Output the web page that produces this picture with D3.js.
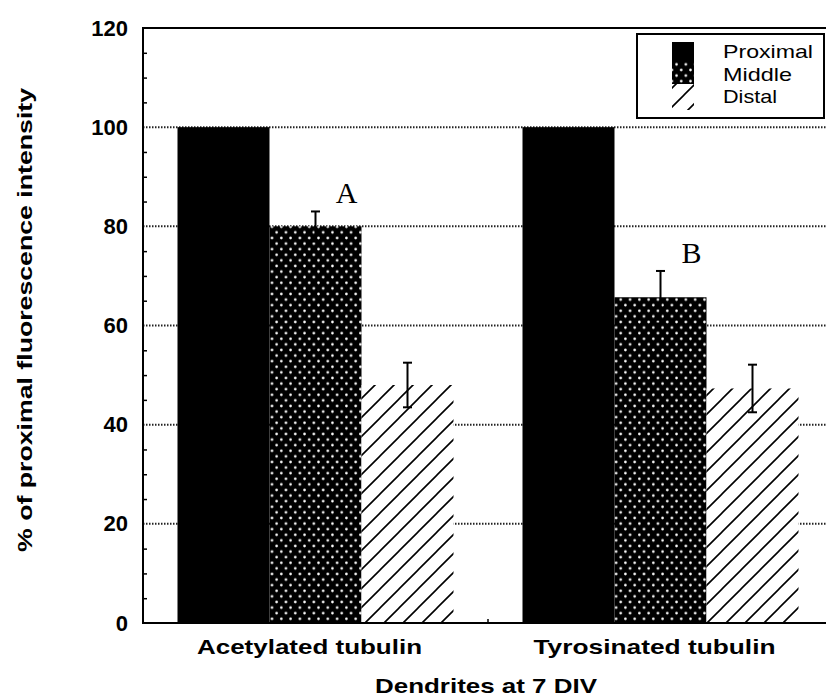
<!DOCTYPE html>
<html>
<head>
<meta charset="utf-8">
<script src="https://cdn.jsdelivr.net/npm/d3@7"></script>
<style>
  html, body { margin: 0; padding: 0; background: #fff; }
  svg { display: block; }
</style>
</head>
<body>
<svg id="chart" width="826" height="698"></svg>
<script>
// ---- data ----
const categories = ["Acetylated tubulin", "Tyrosinated tubulin"];
const series = ["Proximal", "Middle", "Distal"];
const proximalValues = [100, 100];
const middleValues = [80, 65.7];
const distalValues = [48, 47.3];
const proximalErrors = [0, 0];
const middleErrors = [3, 5.3];
const distalErrors = [4.5, 4.8];
const significance = [{ category: "Acetylated tubulin", series: "Middle", label: "A" },
                      { category: "Tyrosinated tubulin", series: "Middle", label: "B" }];
const yTicks = [0, 20, 40, 60, 80, 100, 120];
const yTitle = "% of proximal fluorescence intensity";
const xTitle = "Dendrites at 7 DIV";

const valuesBySeries = { Proximal: proximalValues, Middle: middleValues, Distal: distalValues };
const errorsBySeries = { Proximal: proximalErrors, Middle: middleErrors, Distal: distalErrors };
const rows = [];
categories.forEach((c, i) => series.forEach(s => rows.push({ category: c, series: s, value: valuesBySeries[s][i], err: errorsBySeries[s][i] })));

// ---- layout ----
const svg = d3.select("#chart");
const pLeft = 143, pRight = 833, pTop = 28, pBottom = 623;
const y = d3.scaleLinear().domain([0, 120]).range([pBottom, pTop]);
const x0 = d3.scaleBand().domain(categories).range([pLeft, pRight]).padding(0);
const step = x0.bandwidth();
const x1 = d3.scaleBand().domain(series).range([0.1 * step, 0.9 * step]).padding(0);

const defs = svg.append("defs");
const dots = defs.append("pattern").attr("id", "dots").attr("patternUnits", "userSpaceOnUse")
  .attr("width", 9.3).attr("height", 11.2);
dots.append("rect").attr("width", 9.3).attr("height", 11.2).attr("fill", "#000");
dots.append("circle").attr("cx", 2.3).attr("cy", 2.8).attr("r", 1.3).attr("fill", "#fff");
dots.append("circle").attr("cx", 6.95).attr("cy", 8.4).attr("r", 1.3).attr("fill", "#fff");

const hatch = defs.append("pattern").attr("id", "hatch").attr("patternUnits", "userSpaceOnUse")
  .attr("width", 19).attr("height", 19);
hatch.append("rect").attr("width", 19).attr("height", 19).attr("fill", "#fff");
hatch.append("path").attr("d", "M0,19 L19,0 M-2,2 L2,-2 M17,21 L21,17")
  .attr("stroke", "#000").attr("stroke-width", 1.6);

const fills = { Proximal: "#000", Middle: "url(#dots)", Distal: "url(#hatch)" };

// gridlines (behind bars)
svg.append("g").selectAll("line").data([20, 40, 60, 80, 100]).join("line")
  .attr("x1", pLeft).attr("x2", pRight).attr("y1", d => y(d)).attr("y2", d => y(d))
  .attr("stroke", "#222").attr("stroke-width", 2).attr("stroke-dasharray", "1.5,1.5");

// bars
svg.append("g").selectAll("rect").data(rows).join("rect")
  .attr("x", d => x0(d.category) + x1(d.series))
  .attr("width", x1.bandwidth())
  .attr("y", d => y(d.value))
  .attr("height", d => y(0) - y(d.value))
  .attr("fill", d => fills[d.series]);

// error bars
const eb = svg.append("g").attr("stroke", "#000").attr("stroke-width", 2);
rows.filter(d => d.err > 0).forEach(d => {
  const cx = x0(d.category) + x1(d.series) + x1.bandwidth() / 2;
  eb.append("line").attr("x1", cx).attr("x2", cx).attr("y1", y(d.value + d.err)).attr("y2", y(d.value - d.err));
  eb.append("line").attr("x1", cx - 4.5).attr("x2", cx + 4.5).attr("y1", y(d.value + d.err)).attr("y2", y(d.value + d.err));
  eb.append("line").attr("x1", cx - 4.5).attr("x2", cx + 4.5).attr("y1", y(d.value - d.err)).attr("y2", y(d.value - d.err));
});

// significance letters
significance.forEach(s => {
  const i = categories.indexOf(s.category);
  const v = valuesBySeries[s.series][i] + errorsBySeries[s.series][i];
  const cx = x0(s.category) + x1(s.series) + x1.bandwidth() / 2;
  svg.append("text").attr("x", cx + 31).attr("y", y(v) - 8)
    .attr("text-anchor", "middle")
    .attr("font-family", "'Liberation Serif', 'Times New Roman', serif")
    .attr("font-size", 30).attr("fill", "#000").text(s.label);
});

// left axis: minor ticks
const minor = d3.range(5, 120, 5).filter(v => v % 20 !== 0);
svg.append("g").attr("transform", `translate(${pLeft},0)`)
  .call(d3.axisLeft(y).tickValues(minor).tickSize(-4).tickFormat(""))
  .call(g => g.select(".domain").remove())
  .selectAll("line").attr("stroke", "#000").attr("stroke-width", 1.5);

// left axis: labels
svg.append("g").attr("transform", `translate(${pLeft},0)`)
  .call(d3.axisLeft(y).tickValues(yTicks).tickSize(0).tickPadding(15).tickFormat(d3.format("d")))
  .call(g => g.select(".domain").remove())
  .selectAll("text")
  .attr("font-family", "'Liberation Sans', Arial, sans-serif")
  .attr("font-weight", "bold").attr("font-size", 22).attr("fill", "#000");

// bottom axis: category labels
const xa = svg.append("g").attr("transform", `translate(0,${pBottom})`)
  .call(d3.axisBottom(x0).tickSize(0).tickPadding(0))
  .call(g => g.select(".domain").remove());
xa.selectAll("text")
  .attr("y", 31).attr("dy", 0).attr("dx", -6)
  .attr("font-family", "'Liberation Sans', Arial, sans-serif")
  .attr("font-weight", "bold").attr("font-size", 21).attr("fill", "#000")
  .attr("textLength", (d, i) => i === 0 ? 225 : 242)
  .attr("lengthAdjust", "spacingAndGlyphs");

// bottom tick between groups
svg.append("line").attr("x1", x0(categories[1])).attr("x2", x0(categories[1]))
  .attr("y1", pBottom).attr("y2", pBottom - 4).attr("stroke", "#000").attr("stroke-width", 1.5);

// frame
svg.append("rect").attr("x", pLeft).attr("y", pTop).attr("width", pRight - pLeft).attr("height", pBottom - pTop)
  .attr("fill", "none").attr("stroke", "#000").attr("stroke-width", 2);

// axis titles
svg.append("text").attr("x", 486).attr("y", 693).attr("text-anchor", "middle")
  .attr("font-family", "'Liberation Sans', Arial, sans-serif")
  .attr("font-weight", "bold").attr("font-size", 21).attr("fill", "#000")
  .attr("textLength", 222).attr("lengthAdjust", "spacingAndGlyphs")
  .text(xTitle);

svg.append("text").attr("transform", "translate(32,320) rotate(-90)").attr("text-anchor", "middle")
  .attr("font-family", "'Liberation Sans', Arial, sans-serif")
  .attr("font-weight", "bold").attr("font-size", 21).attr("fill", "#000")
  .attr("textLength", 464).attr("lengthAdjust", "spacingAndGlyphs")
  .text(yTitle);

// legend
const lg = svg.append("g");
lg.append("rect").attr("x", 637).attr("y", 34).attr("width", 187).attr("height", 84)
  .attr("fill", "#fff").attr("stroke", "#000").attr("stroke-width", 2);
const swatchY = { Proximal: [42, 62], Middle: [62, 84], Distal: [84, 110] };
const textBase = { Proximal: 58, Middle: 81, Distal: 103 };
const textLen = { Proximal: 90, Middle: 69, Distal: 54 };
series.forEach(s => {
  lg.append("rect").attr("x", 672).attr("y", swatchY[s][0]).attr("width", 22)
    .attr("height", swatchY[s][1] - swatchY[s][0]).attr("fill", fills[s]);
  lg.append("text").attr("x", 723).attr("y", textBase[s])
    .attr("font-family", "'Liberation Sans', Arial, sans-serif")
    .attr("font-size", 19).attr("fill", "#000")
    .attr("textLength", textLen[s]).attr("lengthAdjust", "spacingAndGlyphs")
    .text(s);
});
</script>
</body>
</html>
